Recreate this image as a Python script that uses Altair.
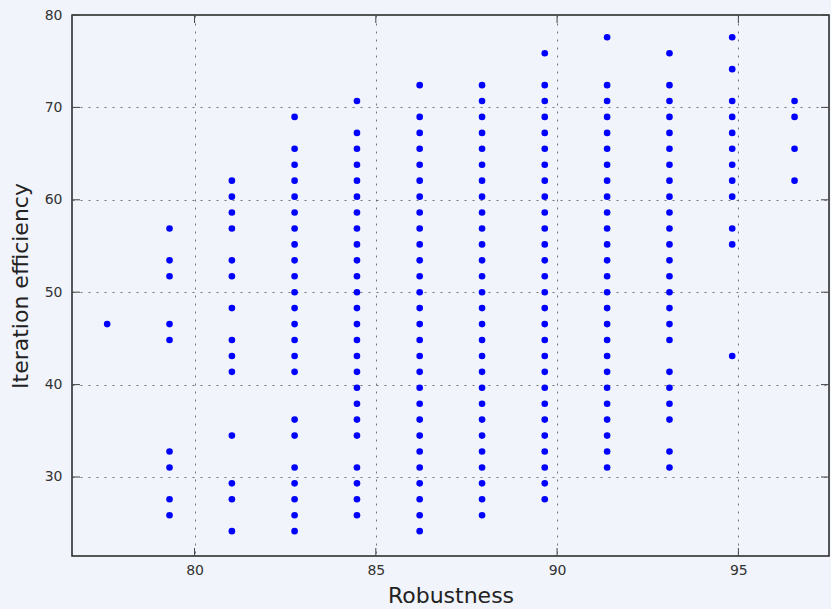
import altair as alt
import pandas as pd

# Robustness columns (x) and the efficiency values read in each column (y)
x_values = [77.59, 79.31, 81.03, 82.76, 84.48, 86.21, 87.93, 89.66, 91.38, 93.10, 94.83, 96.55]

y_77_59 = [46.55]
y_79_31 = [56.90, 53.45, 51.72, 46.55, 44.83, 32.76, 31.03, 27.59, 25.86]
y_81_03 = [62.07, 60.34, 58.62, 56.90, 53.45, 51.72, 48.28, 44.83, 43.10, 41.38,
           34.48, 29.31, 27.59, 24.14]
y_82_76 = [68.97, 65.52, 63.79, 62.07, 60.34, 58.62, 56.90, 55.17, 53.45, 51.72,
           50.00, 48.28, 46.55, 44.83, 43.10, 41.38, 36.21, 34.48, 31.03, 29.31,
           27.59, 25.86, 24.14]
y_84_48 = [70.69, 67.24, 65.52, 63.79, 62.07, 60.34, 58.62, 56.90, 55.17, 53.45,
           51.72, 50.00, 48.28, 46.55, 44.83, 43.10, 41.38, 39.66, 37.93, 36.21,
           34.48, 31.03, 29.31, 27.59, 25.86]
y_86_21 = [72.41, 68.97, 67.24, 65.52, 63.79, 62.07, 60.34, 58.62, 56.90, 55.17,
           53.45, 51.72, 50.00, 48.28, 46.55, 44.83, 43.10, 41.38, 39.66, 37.93,
           36.21, 34.48, 32.76, 31.03, 29.31, 27.59, 25.86, 24.14]
y_87_93 = [72.41, 70.69, 68.97, 67.24, 65.52, 63.79, 62.07, 60.34, 58.62, 56.90,
           55.17, 53.45, 51.72, 50.00, 48.28, 46.55, 44.83, 43.10, 41.38, 39.66,
           37.93, 36.21, 34.48, 32.76, 31.03, 29.31, 27.59, 25.86]
y_89_66 = [75.86, 72.41, 70.69, 68.97, 67.24, 65.52, 63.79, 62.07, 60.34, 58.62,
           56.90, 55.17, 53.45, 51.72, 50.00, 48.28, 46.55, 44.83, 43.10, 41.38,
           39.66, 37.93, 36.21, 34.48, 32.76, 31.03, 29.31, 27.59]
y_91_38 = [77.59, 72.41, 70.69, 68.97, 67.24, 65.52, 63.79, 62.07, 60.34, 58.62,
           56.90, 55.17, 53.45, 51.72, 50.00, 48.28, 46.55, 44.83, 43.10, 41.38,
           39.66, 37.93, 36.21, 34.48, 32.76, 31.03]
y_93_10 = [75.86, 72.41, 70.69, 68.97, 67.24, 65.52, 63.79, 62.07, 60.34, 58.62,
           56.90, 55.17, 53.45, 51.72, 50.00, 48.28, 46.55, 44.83, 41.38, 39.66,
           37.93, 36.21, 32.76, 31.03]
y_94_83 = [77.59, 74.14, 70.69, 68.97, 67.24, 65.52, 63.79, 62.07, 60.34, 56.90,
           55.17, 43.10]
y_96_55 = [70.69, 68.97, 65.52, 62.07]

columns = [y_77_59, y_79_31, y_81_03, y_82_76, y_84_48, y_86_21,
           y_87_93, y_89_66, y_91_38, y_93_10, y_94_83, y_96_55]

x_ticks = [80, 85, 90, 95]
y_ticks = [30, 40, 50, 60, 70, 80]
x_domain = [76.62, 97.5]
y_domain = [21.45, 80]

rows = []
for xv, ys in zip(x_values, columns):
    for yv in ys:
        rows.append({"Robustness": xv, "Iteration efficiency": yv})
df = pd.DataFrame(rows)

W, H = 757, 541
FONT = "DejaVu Sans"

xs = alt.Scale(domain=x_domain, nice=False, zero=False)
ys_ = alt.Scale(domain=y_domain, nice=False, zero=False)

points = alt.Chart(df).mark_circle(size=44, color="#0000ff", opacity=1).encode(
    x=alt.X("Robustness:Q", scale=xs,
            axis=alt.Axis(values=x_ticks, title="Robustness", grid=True,
                          tickSize=0, labelPadding=7, titlePadding=8,
                          labelFontSize=14, titleFontSize=22)),
    y=alt.Y("Iteration efficiency:Q", scale=ys_,
            axis=alt.Axis(values=y_ticks, title="Iteration efficiency", grid=True,
                          tickSize=0, labelPadding=10, titlePadding=12,
                          labelFontSize=14, titleFontSize=22)),
)

xt = pd.DataFrame({"t": x_ticks})
yt = pd.DataFrame({"t": y_ticks})
tick_color = "#444444"
xb = alt.Chart(xt).mark_rule(color=tick_color, strokeWidth=1).encode(
    x=alt.X("t:Q", scale=xs), y=alt.value(H), y2=alt.value(H - 8))
xtop = alt.Chart(xt).mark_rule(color=tick_color, strokeWidth=1).encode(
    x=alt.X("t:Q", scale=xs), y=alt.value(0), y2=alt.value(8))
yl = alt.Chart(yt).mark_rule(color=tick_color, strokeWidth=1).encode(
    y=alt.Y("t:Q", scale=ys_), x=alt.value(0), x2=alt.value(8))
yr = alt.Chart(yt).mark_rule(color=tick_color, strokeWidth=1).encode(
    y=alt.Y("t:Q", scale=ys_), x=alt.value(W), x2=alt.value(W - 8))

chart = alt.layer(points, xb, xtop, yl, yr).properties(
    width=W, height=H,
    autosize=alt.AutoSizeParams(type="none"),
    padding={"left": 72, "top": 15, "right": 2, "bottom": 53},
    background="#f1f4fa",
).configure_view(
    stroke="#222222", strokeWidth=1.5, fill="#f1f4fa"
).configure_axis(
    domain=False,
    gridColor="#555555", gridDash=[2, 6], gridWidth=1, gridOpacity=0.8,
    labelFont=FONT, titleFont=FONT, labelColor="#333333", titleColor="#222222",
    titleFontWeight="normal",
)

chart.save("out.html", embed_options={"renderer": "svg", "actions": False})
